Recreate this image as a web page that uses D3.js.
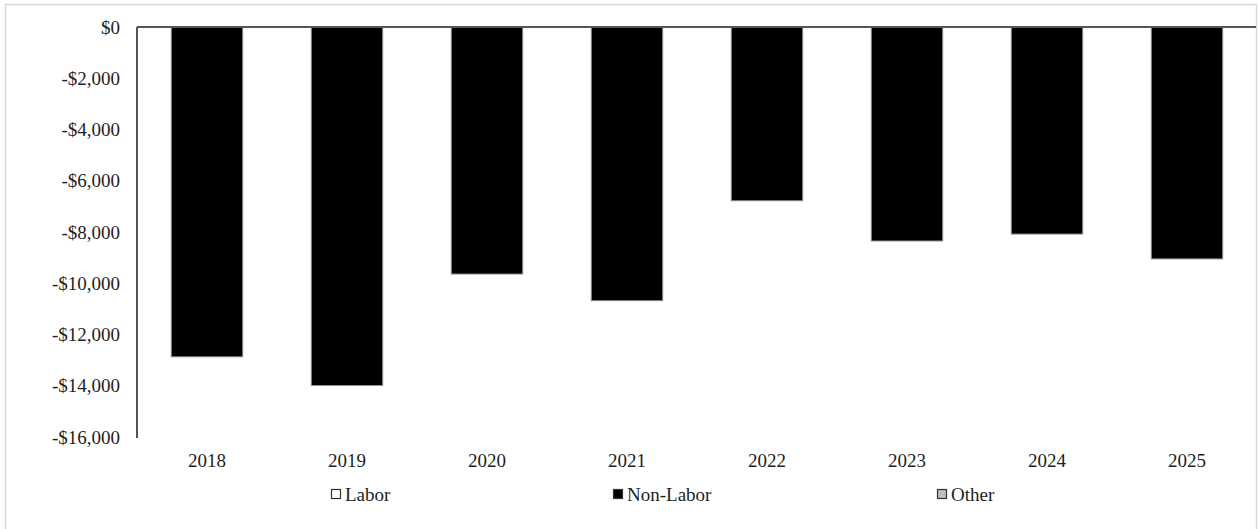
<!DOCTYPE html>
<html>
<head>
<meta charset="utf-8">
<script src="https://cdn.jsdelivr.net/npm/d3@7/dist/d3.min.js"></script>
<style>
  html, body { margin: 0; padding: 0; background: #fff; }
  svg { display: block; }
  svg text { font-family: "Times New Roman", "Liberation Serif", "DejaVu Serif", serif !important; fill: #1e1e1e; }
</style>
</head>
<body>
<svg id="chart" width="1258" height="529"></svg>
<script>
// Fiscal years and cost components (dollars)
const years = ["2018", "2019", "2020", "2021", "2022", "2023", "2024", "2025"];
const labor = [0, 0, 0, 0, 0, 0, 0, 0];
const nonLabor = [-12870, -13990, -9640, -10680, -6780, -8350, -8080, -9050];
const other = [0, 0, 0, 0, 0, 0, 0, 0];
const yTicks = [0, -2000, -4000, -6000, -8000, -10000, -12000, -14000, -16000];
const seriesNames = ["Labor", "Non-Labor", "Other"];
const seriesColors = { "Labor": "#ffffff", "Non-Labor": "#000000", "Other": "#bfbfbf" };

const svg = d3.select("#chart");

// Outer frame
svg.append("rect")
  .attr("x", 5.5).attr("y", 4.5)
  .attr("width", 1251).attr("height", 530)
  .attr("fill", "none").attr("stroke", "#d9d9d9").attr("stroke-width", 1.5);

const plotLeft = 137, plotRight = 1257, plotTop = 27, plotBottom = 437;

const x = d3.scaleBand().domain(years).range([plotLeft, plotRight])
  .paddingInner(0.49).paddingOuter(0.245);
const y = d3.scaleLinear().domain([0, -16000]).range([plotTop, plotBottom]);

// Stack the three components per year
const rows = years.map((yr, i) => ({ year: yr, "Labor": labor[i], "Non-Labor": nonLabor[i], "Other": other[i] }));
const stacked = d3.stack().keys(seriesNames).offset(d3.stackOffsetDiverging)(rows);

const groups = svg.append("g").selectAll("g").data(stacked).join("g")
  .attr("fill", d => seriesColors[d.key]);
groups.selectAll("rect").data(d => d.filter(v => v[0] !== v[1])).join("rect")
  .attr("x", d => x(d.data.year))
  .attr("width", x.bandwidth())
  .attr("y", d => y(Math.max(d[0], d[1])))
  .attr("height", d => Math.abs(y(d[0]) - y(d[1])))
  .attr("stroke", "#8c8c8c").attr("stroke-width", 1);

// Y axis (labels only, plus the vertical rule)
const yAxis = d3.axisLeft(y).tickValues(yTicks).tickSize(0).tickPadding(17)
  .tickFormat(d => (d < 0 ? "-$" : "$") + d3.format(",")(Math.abs(d)));
const ya = svg.append("g").attr("transform", `translate(${plotLeft},0)`).call(yAxis)
  .attr("font-family", null).attr("font-size", 19);
ya.select(".domain").remove();

svg.append("line")
  .attr("x1", plotLeft).attr("x2", plotLeft).attr("y1", plotTop).attr("y2", plotBottom + 1)
  .attr("stroke", "#555").attr("stroke-width", 2);

// Zero baseline across the plot
svg.append("line")
  .attr("x1", plotLeft).attr("x2", plotRight - 1).attr("y1", y(0)).attr("y2", y(0))
  .attr("stroke", "#555").attr("stroke-width", 2);

// Year labels below the plot
const xAxis = d3.axisBottom(x).tickSize(0).tickPadding(0);
const xa = svg.append("g").attr("transform", `translate(0,${plotBottom + 16})`).call(xAxis)
  .attr("font-family", null).attr("font-size", 19);
xa.select(".domain").remove();
xa.selectAll("text").attr("dy", "0.71em");

// Legend
const legendX = d3.scaleOrdinal().domain(seriesNames).range([331, 613, 937]);
const legend = svg.append("g").selectAll("g").data(seriesNames).join("g")
  .attr("transform", d => `translate(${legendX(d)},489)`);
legend.append("rect")
  .attr("x", 0.5).attr("y", 0.5).attr("width", 9).attr("height", 9)
  .attr("fill", d => seriesColors[d]).attr("stroke", "#333").attr("stroke-width", 1.2);
legend.append("text")
  .attr("x", 14).attr("y", 12)
  .attr("font-size", 19)
  .text(d => d);
</script>
</body>
</html>
